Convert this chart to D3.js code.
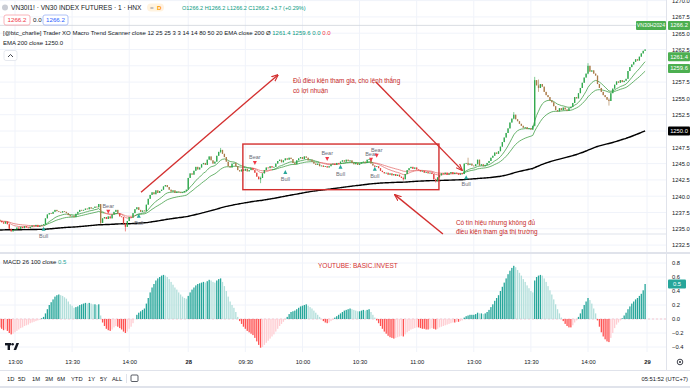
<!DOCTYPE html>
<html>
<head>
<meta charset="utf-8">
<script src="https://cdn.jsdelivr.net/npm/d3@7"></script>
<style>
  body { margin: 0; background: #fff; }
  svg { display: block; }
</style>
</head>
<body>
<div id="chart"></div>
<script>
// 1-minute closes, bar 0 = 11:22 (27th), bar 8 = 13:00, bar 99 = 09:00 (28th), bar 249 = 13:00
const closes = [
  1236.2, 1236.0, 1235.8, 1236.1, 1235.7, 1235.0, 1234.6, 1234.8, 1234.9, 1235.2,
  1235.0, 1235.3, 1235.1, 1235.4, 1235.2, 1235.1, 1235.3, 1235.5, 1235.4, 1235.6,
  1235.3, 1235.5, 1235.6, 1235.7, 1236.6, 1237.2, 1237.4, 1237.3, 1237.6, 1237.9,
  1237.7, 1237.6, 1237.5, 1237.7, 1237.6, 1237.4, 1237.1, 1236.9, 1237.0, 1236.8,
  1237.3, 1237.6, 1237.9, 1237.8, 1237.9, 1238.1, 1238.0, 1238.3, 1238.1, 1238.2,
  1238.4, 1238.3, 1238.8, 1235.9, 1236.6, 1236.8, 1236.5, 1236.9, 1236.6, 1237.2,
  1237.6, 1237.9, 1237.4, 1236.9, 1236.8, 1235.8, 1235.3, 1236.2, 1236.8, 1236.7,
  1237.4, 1238.0, 1238.3, 1237.9, 1237.6, 1237.8, 1237.7, 1238.7, 1239.6, 1240.2,
  1240.6, 1240.3, 1240.9, 1240.5, 1240.8, 1241.0, 1241.5, 1241.7, 1241.4, 1241.0,
  1240.7, 1240.9, 1240.5, 1240.7, 1240.6, 1240.5, 1240.6, 1240.8, 1241.0, 1242.8,
  1243.5, 1243.3, 1243.9, 1244.5, 1244.1, 1244.4, 1244.9, 1245.1, 1244.8, 1245.6,
  1246.1, 1245.5, 1245.0, 1245.3, 1246.2, 1246.8, 1247.1, 1246.5, 1246.0, 1245.3,
  1244.6, 1244.4, 1245.0, 1245.1, 1244.6, 1244.0, 1243.8, 1244.1, 1243.9, 1244.2,
  1243.8, 1244.0, 1244.3, 1244.0, 1243.6, 1243.0, 1242.6, 1242.8, 1243.5, 1244.0,
  1244.4, 1244.3, 1244.6, 1244.4, 1244.5, 1245.0, 1245.4, 1245.6, 1245.2, 1245.5,
  1245.8, 1245.6, 1245.9, 1245.7, 1245.1, 1244.9, 1245.5, 1245.8, 1246.0, 1245.7,
  1246.1, 1245.9, 1245.5, 1245.6, 1245.3, 1245.0, 1244.8, 1245.0, 1244.6, 1244.7,
  1244.5, 1244.6, 1244.4, 1244.6, 1244.9, 1245.0, 1244.8, 1245.1, 1245.0, 1245.3,
  1245.5, 1245.3, 1245.6, 1245.4, 1245.5, 1245.1, 1244.9, 1245.1, 1244.8, 1245.0,
  1245.2, 1245.3, 1245.1, 1245.6, 1245.7, 1245.0, 1244.7, 1244.5, 1244.6, 1244.3,
  1243.9, 1243.7, 1243.5, 1243.6, 1243.3, 1243.5, 1243.2, 1243.4, 1243.1, 1243.3,
  1243.0, 1242.8, 1242.6, 1243.4, 1244.0, 1244.3, 1244.5, 1244.2, 1244.4, 1244.1,
  1244.0, 1243.8, 1243.9, 1243.6, 1243.7, 1243.5, 1243.6, 1243.4, 1242.6, 1242.3,
  1242.9, 1243.2, 1243.5, 1243.4, 1243.6, 1243.3, 1243.5, 1243.7, 1243.4, 1243.6,
  1243.5, 1243.3, 1243.5, 1243.4, 1245.0, 1245.1, 1244.8, 1245.0, 1244.7, 1244.6,
  1244.9, 1245.6, 1244.7, 1244.9, 1244.6, 1244.8, 1245.1, 1245.4, 1245.9, 1246.2,
  1246.7, 1246.5, 1246.9, 1247.6, 1248.3, 1249.0, 1249.7, 1250.4, 1251.3, 1251.9,
  1252.5, 1251.8, 1251.5, 1251.1, 1250.8, 1250.5, 1250.6, 1250.3, 1250.4, 1250.2,
  1250.8, 1257.8, 1257.0, 1256.6, 1257.2, 1256.8, 1256.0, 1255.5, 1255.2, 1254.7,
  1254.4, 1253.8, 1253.2, 1253.0, 1253.5, 1253.2, 1253.6, 1253.3, 1253.1, 1253.5,
  1253.7, 1254.3, 1255.2, 1255.0, 1255.8, 1256.6, 1257.4, 1258.2, 1258.8, 1260.0,
  1259.1, 1259.3, 1258.8, 1258.5, 1257.2, 1256.6, 1256.0, 1255.5, 1255.2, 1254.8,
  1254.6, 1255.8, 1256.5, 1257.1, 1257.6, 1257.4, 1257.8, 1257.5, 1257.7, 1258.0,
  1259.2, 1259.8, 1260.2, 1260.6, 1261.0, 1260.8, 1261.4, 1261.9, 1262.3, 1262.5
];
const firstOpen = 1236.4;

// bars with visible wicks: index, high, low
const wickIdx  = [53, 66, 116, 137, 212, 229, 246, 270, 281, 283, 309, 320];
const wickHigh = [1238.6, 1235.9, 1247.4, 1243.0, 1243.0, 1242.7, 1245.9, 1252.9, 1258.3, 1257.9, 1260.4, 1255.0];
const wickLow  = [1235.7, 1234.6, 1246.6, 1242.0, 1242.4, 1242.1, 1244.7, 1251.8, 1250.7, 1256.0, 1258.7, 1253.9];

// MACD 26 100 histogram
const macdHist = [
  -0.12, -0.14, -0.16, -0.15, -0.17, -0.20, -0.22, -0.21, -0.19, -0.17,
  -0.15, -0.13, -0.12, -0.10, -0.09, -0.08, -0.06, -0.05, -0.04, -0.03,
  -0.02, -0.01, 0.01, 0.03, 0.08, 0.14, 0.20, 0.24, 0.28, 0.32,
  0.34, 0.35, 0.34, 0.33, 0.31, 0.29, 0.25, 0.21, 0.19, 0.16,
  0.17, 0.18, 0.20, 0.21, 0.22, 0.23, 0.22, 0.23, 0.22, 0.21,
  0.21, 0.20, 0.21, 0.05, -0.05, -0.10, -0.14, -0.16, -0.17, -0.15,
  -0.12, -0.10, -0.11, -0.13, -0.15, -0.18, -0.20, -0.18, -0.14, -0.11,
  -0.06, 0.00, 0.06, 0.09, 0.11, 0.13, 0.15, 0.22, 0.30, 0.38,
  0.45, 0.50, 0.55, 0.58, 0.60, 0.62, 0.63, 0.62, 0.60, 0.57,
  0.53, 0.49, 0.45, 0.42, 0.38, 0.35, 0.32, 0.30, 0.29, 0.33,
  0.38, 0.42, 0.45, 0.48, 0.50, 0.51, 0.52, 0.53, 0.52, 0.54,
  0.56, 0.55, 0.53, 0.52, 0.55, 0.57, 0.58, 0.53, 0.47, 0.40,
  0.32, 0.25, 0.20, 0.16, 0.10, 0.03, -0.03, -0.07, -0.11, -0.14,
  -0.17, -0.19, -0.21, -0.23, -0.27, -0.32, -0.37, -0.41, -0.40, -0.37,
  -0.34, -0.31, -0.28, -0.25, -0.22, -0.18, -0.14, -0.10, -0.07, -0.04,
  -0.01, 0.03, 0.07, 0.10, 0.11, 0.12, 0.14, 0.16, 0.18, 0.19,
  0.20, 0.21, 0.19, 0.17, 0.15, 0.12, 0.09, 0.06, 0.03, 0.00,
  -0.03, -0.05, -0.06, -0.05, -0.03, -0.01, 0.02, 0.04, 0.06, 0.08,
  0.10, 0.12, 0.13, 0.14, 0.15, 0.14, 0.13, 0.12, 0.11, 0.11,
  0.12, 0.13, 0.12, 0.13, 0.14, 0.10, 0.06, 0.02, -0.02, -0.06,
  -0.10, -0.14, -0.18, -0.21, -0.24, -0.26, -0.27, -0.28, -0.27, -0.26,
  -0.25, -0.24, -0.25, -0.22, -0.19, -0.17, -0.15, -0.14, -0.13, -0.12,
  -0.12, -0.13, -0.14, -0.14, -0.15, -0.15, -0.14, -0.13, -0.14, -0.15,
  -0.14, -0.12, -0.11, -0.10, -0.09, -0.08, -0.07, -0.06, -0.05, -0.05,
  -0.04, -0.04, -0.03, -0.02, 0.02, 0.04, 0.05, 0.06, 0.06, 0.06,
  0.07, 0.09, 0.08, 0.08, 0.07, 0.08, 0.10, 0.13, 0.17, 0.21,
  0.26, 0.30, 0.34, 0.40, 0.46, 0.52, 0.58, 0.64, 0.69, 0.73,
  0.76, 0.74, 0.70, 0.66, 0.62, 0.57, 0.53, 0.48, 0.44, 0.40,
  0.38, 0.55, 0.60, 0.62, 0.63, 0.62, 0.58, 0.53, 0.47, 0.41,
  0.35, 0.28, 0.21, 0.14, 0.08, 0.02, -0.03, -0.07, -0.10, -0.12,
  -0.12, -0.09, -0.05, -0.02, 0.03, 0.08, 0.14, 0.20, 0.25, 0.30,
  0.27, 0.22, 0.15, 0.08, -0.02, -0.11, -0.19, -0.25, -0.29, -0.32,
  -0.33, -0.27, -0.20, -0.13, -0.08, -0.05, -0.02, 0.01, 0.05, 0.09,
  0.14, 0.18, 0.22, 0.25, 0.28, 0.30, 0.33, 0.36, 0.41, 0.50
];

// EMA 200 value at the first visible bar
const ema200Seed = 1234.8;

// last values shown in the legends / price scale
const lastPrice = 1266.2;
const fastLast = 1261.4, slowLast = 1259.6, ema200Last = 1250.0, macdLast = 0.5;

// Trader XO signals
const signalIdx   = [23, 57, 73, 134, 150, 172, 179, 195, 198, 197, 245];
const signalType  = ['Bull', 'Bear', 'Bull', 'Bear', 'Bull', 'Bear', 'Bull', 'Bear', 'Bear', 'Bull', 'Bull'];
const signalPrice = [1235.0, 1237.6, 1237.0, 1245.1, 1243.7, 1245.7, 1244.5, 1245.6, 1246.2, 1244.2, 1242.9];

// time axis
const timeTickIdx = [8, 38, 68, 99, 129, 159, 189, 219, 249, 279, 309, 340];
const timeTickLabels = ['13:00', '13:30', '14:00', '28', '09:30', '10:00', '10:30', '11:00', '13:00', '13:30', '14:00', '29'];

const priceTicks = d3.range(1232.5, 1270.01, 2.5);
const macdTicks = [-0.4, -0.2, 0, 0.2, 0.4, 0.6, 0.8];

// ---------------------------------------------------------------
const W = 690, H = 388;
const paneRight = 666;
const mainTop = 0, mainBottom = 252;
const macdTop = 254, macdBottom = 352;
const font = "'Liberation Sans', Arial, sans-serif";

const x = d3.scaleLinear().domain([8, 309]).range([15, 588]);
const y = d3.scaleLinear().domain([1232.5, 1270]).range([245.1, 0.6]);
const yM = d3.scaleLinear().domain([-0.4, 0.8]).range([347, 263]);

function ema(values, len, seed) {
    const k = 2 / (len + 1);
    let prev = seed === undefined ? values[0] : seed;
    return values.map(v => (prev = prev + k * (v - prev)));
}

const bars = closes.map((c, i) => {
    const o = i ? closes[i - 1] : firstOpen;
    let hi = Math.max(o, c), lo = Math.min(o, c);
    const w = wickIdx.indexOf(i);
    if (w >= 0) { hi = wickHigh[w]; lo = wickLow[w]; }
    return { i, o, c, hi, lo };
});
const fast = ema(closes, 12);
const slow = ema(closes, 25);
const ema200 = ema(closes, 200, ema200Seed);

const svg = d3.select('#chart').append('svg')
    .attr('width', W).attr('height', H)
    .style('font-family', font);

svg.append('rect').attr('width', W).attr('height', H).attr('fill', '#fff');

const defs = svg.append('defs');
defs.append('clipPath').attr('id', 'clipMain')
    .append('rect').attr('x', 0).attr('y', mainTop).attr('width', paneRight).attr('height', mainBottom - mainTop);
defs.append('clipPath').attr('id', 'clipMacd')
    .append('rect').attr('x', 0).attr('y', macdTop).attr('width', paneRight).attr('height', macdBottom - macdTop);
defs.append('marker').attr('id', 'arrow')
    .attr('viewBox', '0 0 10 10').attr('refX', 9).attr('refY', 5)
    .attr('markerWidth', 5).attr('markerHeight', 5).attr('orient', 'auto')
    .append('path').attr('d', 'M0,1 L10,5 L0,9').attr('fill', 'none')
    .attr('stroke', '#d32f2f').attr('stroke-width', 1.6);

// grid
const grid = svg.append('g');
grid.selectAll('.vg').data(timeTickIdx).enter().append('line')
    .attr('x1', d => x(d)).attr('x2', d => x(d))
    .attr('y1', 0).attr('y2', macdBottom)
    .attr('stroke', '#f0f3fa').attr('stroke-width', 1);
grid.selectAll('.hg').data(priceTicks).enter().append('line')
    .attr('x1', 0).attr('x2', paneRight)
    .attr('y1', d => y(d)).attr('y2', d => y(d))
    .attr('stroke', '#f0f3fa');
grid.selectAll('.hm').data(macdTicks).enter().append('line')
    .attr('x1', 0).attr('x2', paneRight)
    .attr('y1', d => yM(d)).attr('y2', d => yM(d))
    .attr('stroke', '#f0f3fa');

// reference lines in the main pane
svg.append('line').attr('x1', 0).attr('x2', paneRight)
    .attr('y1', y(lastPrice)).attr('y2', y(lastPrice))
    .attr('stroke', '#d1d4dc').attr('stroke-width', 0.8);
svg.append('line').attr('x1', 0).attr('x2', paneRight)
    .attr('y1', y(1234.2)).attr('y2', y(1234.2))
    .attr('stroke', '#e0e3eb').attr('stroke-width', 1.2);

// pane separators
svg.append('rect').attr('x', 0).attr('y', mainBottom).attr('width', W).attr('height', 2).attr('fill', '#e0e3eb');
svg.append('line').attr('x1', paneRight + 0.5).attr('x2', paneRight + 0.5).attr('y1', 0).attr('y2', 370)
    .attr('stroke', '#e0e3eb');

// ---- main pane
const main = svg.append('g').attr('clip-path', 'url(#clipMain)');

// EMA 200
main.append('path').datum(ema200)
    .attr('d', d3.line().x((d, i) => x(i)).y(d => y(d)).curve(d3.curveMonotoneX))
    .attr('fill', 'none').attr('stroke', '#000').attr('stroke-width', 1.4);

// fast / slow ribbons
const segs = d3.range(1, closes.length);
[fast, slow].forEach(line => {
    main.append('g').selectAll('line').data(segs).enter().append('line')
        .attr('x1', i => x(i - 1)).attr('x2', i => x(i))
        .attr('y1', i => y(line[i - 1])).attr('y2', i => y(line[i]))
        .attr('stroke', i => fast[i] >= slow[i] ? '#43a047' : '#e57373')
        .attr('stroke-width', 0.8);
});

// candles
const bw = 1.3;
const candleColor = d => d.c >= d.o ? '#2ea84c' : (fast[d.i] >= slow[d.i] ? '#a97a48' : '#e5403c');
const cg = main.append('g');
cg.selectAll('.wick').data(bars).enter().append('line')
    .attr('x1', d => x(d.i)).attr('x2', d => x(d.i))
    .attr('y1', d => y(d.hi)).attr('y2', d => y(d.lo))
    .attr('stroke', candleColor).attr('stroke-width', 0.6);
cg.selectAll('.body').data(bars).enter().append('rect')
    .attr('x', d => x(d.i) - bw / 2).attr('width', bw)
    .attr('y', d => y(Math.max(d.o, d.c)))
    .attr('height', d => Math.max(0.8, y(Math.min(d.o, d.c)) - y(Math.max(d.o, d.c))))
    .attr('fill', candleColor);

// signals
const sig = main.append('g');
signalIdx.forEach((idx, k) => {
    const bull = signalType[k] === 'Bull';
    const cx = x(idx), cy = y(signalPrice[k]);
    const tri = bull
        ? `M${cx - 2},${cy + 2} L${cx + 2},${cy + 2} L${cx},${cy - 2}Z`
        : `M${cx - 2},${cy - 2} L${cx + 2},${cy - 2} L${cx},${cy + 2}Z`;
    sig.append('path').attr('d', tri).attr('fill', bull ? '#26a69a' : '#f23645');
    sig.append('text').attr('x', cx).attr('y', bull ? cy + 9 : cy - 4)
        .attr('text-anchor', 'middle').attr('font-size', 5.5).attr('fill', '#6a6d78')
        .text(signalType[k]);
});

// ---- annotations (anchored in bar index / price)
const red = '#d32f2f';
const ann = svg.append('g');
const arrows = [
    [[74.2, 1240.6], [146.1, 1258.6]],
    [[197.6, 1257.5], [242.8, 1244.0]],
    [[232.8, 1234.2], [207.6, 1240.2]]
];
arrows.forEach(a => {
    ann.append('line')
        .attr('x1', x(a[0][0])).attr('y1', y(a[0][1]))
        .attr('x2', x(a[1][0])).attr('y2', y(a[1][1]))
        .attr('stroke', red).attr('stroke-width', 1.4)
        .attr('marker-end', 'url(#arrow)');
});
ann.append('rect')
    .attr('x', x(127.7)).attr('y', y(1248.0))
    .attr('width', x(230.7) - x(127.7)).attr('height', y(1241.0) - y(1248.0))
    .attr('fill', 'none').attr('stroke', red).attr('stroke-width', 1.4);

function note(idx, price, lines) {
    const t = ann.append('text').attr('x', x(idx)).attr('y', y(price))
        .attr('font-size', 6.4).attr('fill', '#c62828');
    lines.forEach((s, k) => t.append('tspan').attr('x', x(idx)).attr('dy', k ? 9.5 : 0).text(s));
}
note(154, 1257.3, ['Đủ điều kiện tham gia, cho lệnh thắng', 'có lợi nhuận']);
note(239.6, 1235.6, ['Có tín hiệu nhưng không đủ', 'điều kiện tham gia thị trường']);

// ---- MACD pane
const macdG = svg.append('g').attr('clip-path', 'url(#clipMacd)');
macdG.append('line').attr('x1', 0).attr('x2', paneRight)
    .attr('y1', yM(0)).attr('y2', yM(0))
    .attr('stroke', '#f7b6bc').attr('stroke-dasharray', '2,2').attr('stroke-width', 0.7);
const histColor = (v, i) => {
    const prev = i ? macdHist[i - 1] : v;
    if (v >= 0) return v >= prev ? '#26a69a' : '#b2dfdb';
    return v <= prev ? '#ff5252' : '#ffcdd2';
};
macdG.selectAll('.hb').data(macdHist).enter().append('rect')
    .attr('x', (v, i) => x(i) - bw / 2).attr('width', bw)
    .attr('y', v => yM(Math.max(0, v)))
    .attr('height', v => Math.abs(yM(v) - yM(0)))
    .attr('fill', (v, i) => histColor(v, i));

svg.append('text').attr('x', 318).attr('y', 268).attr('font-size', 6.5)
    .attr('fill', '#d32f2f').text('YOUTUBE: BASIC.INVEST');

// ---- axes (labels under a price badge are hidden, as on the platform)
const badgePrices = [lastPrice, fastLast, slowLast, ema200Last];
const axisTextStyle = g => g.selectAll('text').attr('font-size', 5.8).attr('fill', '#131722').attr('font-family', font);

const pAxis = svg.append('g').attr('transform', `translate(${paneRight + 3},0)`)
    .call(d3.axisRight(y).tickValues(priceTicks.filter(t => badgePrices.every(b => Math.abs(y(t) - y(b)) > 6)))
        .tickSize(0).tickPadding(3).tickFormat(d3.format('.1f')));
pAxis.select('.domain').remove();
axisTextStyle(pAxis);

const mAxis = svg.append('g').attr('transform', `translate(${paneRight + 3},0)`)
    .call(d3.axisRight(yM).tickValues(macdTicks.filter(t => Math.abs(yM(t) - yM(macdLast)) > 6))
        .tickSize(0).tickPadding(3).tickFormat(d3.format('.1f')));
mAxis.select('.domain').remove();
axisTextStyle(mAxis);

const tAxis = svg.append('g').attr('transform', `translate(0,${macdBottom + 6})`)
    .call(d3.axisBottom(x).tickValues(timeTickIdx).tickSize(0).tickPadding(2)
        .tickFormat((d, k) => timeTickLabels[k]));
tAxis.select('.domain').remove();
axisTextStyle(tAxis);
tAxis.selectAll('text').attr('font-weight', (d, k) => timeTickLabels[k].length === 2 ? 'bold' : null);

// price badges
function badge(xp, yc, w, fill, txt, size) {
    svg.append('rect').attr('x', xp).attr('y', yc - 4.5).attr('width', w).attr('height', 9)
        .attr('fill', fill).attr('rx', 1);
    svg.append('text').attr('x', xp + w / 2).attr('y', yc + 2).attr('text-anchor', 'middle')
        .attr('font-size', size || 5.8).attr('fill', '#fff').text(txt);
}
const f1 = d3.format('.1f');
badge(636, y(lastPrice), 30, '#4caf50', 'VN30H2024', 5.2);
badge(668, y(lastPrice), 22, '#4caf50', f1(lastPrice));
badge(668, y(fastLast), 22, '#4caf50', f1(fastLast));
badge(668, y(slowLast), 22, '#4caf50', f1(slowLast));
badge(668, y(ema200Last), 22, '#000', f1(ema200Last));
badge(668, yM(macdLast), 18, '#26a69a', f1(macdLast));

// ---- legends
const lg = svg.append('g').attr('font-size', 6.2).attr('fill', '#131722');
lg.append('circle').attr('cx', 5).attr('cy', 7.5).attr('r', 3).attr('fill', '#c9ccd4');
lg.append('text').attr('x', 11).attr('y', 10).attr('font-size', 6.6).text('VN30I1! · VN30 INDEX FUTURES · 1 · HNX');
lg.append('rect').attr('x', 147).attr('y', 3.5).attr('width', 17).attr('height', 8).attr('rx', 4).attr('fill', '#fff3e0');
lg.append('text').attr('x', 150).attr('y', 10).attr('fill', '#9598a1').text('=');
lg.append('text').attr('x', 157).attr('y', 10).attr('fill', '#ff9800').attr('font-weight', 'bold').text('D');
lg.append('text').attr('x', 182).attr('y', 10).attr('fill', '#089981').attr('font-size', 5.5)
    .text(`O${f1(lastPrice)} H${f1(lastPrice)} L${f1(lastPrice)} C${f1(lastPrice)} +3.7 (+0.29%)`);

lg.append('rect').attr('x', 4).attr('y', 15).attr('width', 26).attr('height', 10).attr('rx', 2)
    .attr('fill', '#fff').attr('stroke', '#f7a1a8').attr('stroke-width', 0.8);
lg.append('text').attr('x', 17).attr('y', 22).attr('text-anchor', 'middle').attr('fill', '#f23645').text(f1(lastPrice));
lg.append('text').attr('x', 33).attr('y', 22).attr('fill', '#131722').text('0.0');
lg.append('rect').attr('x', 43).attr('y', 15).attr('width', 25).attr('height', 10).attr('rx', 2)
    .attr('fill', '#fff').attr('stroke', '#9db2f5').attr('stroke-width', 0.8);
lg.append('text').attr('x', 55.5).attr('y', 22).attr('text-anchor', 'middle').attr('fill', '#2962ff').text(f1(lastPrice));

const l3 = lg.append('text').attr('x', 3).attr('y', 35).attr('font-size', 6);
l3.append('tspan').text('[@btc_charlie] Trader XO Macro Trend Scanner close 12 25 25 3 3 14 14 80 50 20 EMA close 200  Ø ');
l3.append('tspan').attr('fill', '#089981').text(`${f1(fastLast)} ${f1(slowLast)} 0.0 `);
l3.append('tspan').attr('fill', '#f23645').text('0.0');

const l4 = lg.append('text').attr('x', 3).attr('y', 45).attr('font-size', 6);
l4.append('tspan').text('EMA 200 close  ');
l4.append('tspan').text(f1(ema200Last));

lg.append('rect').attr('x', 4).attr('y', 50.5).attr('width', 13).attr('height', 10).attr('rx', 2)
    .attr('fill', '#fff').attr('stroke', '#e0e3eb').attr('stroke-width', 0.8);
lg.append('path').attr('d', 'M8,57 L10.5,54.5 L13,57').attr('fill', 'none').attr('stroke', '#131722').attr('stroke-width', 0.8);

const l5 = lg.append('text').attr('x', 3).attr('y', 264).attr('font-size', 6);
l5.append('tspan').text('MACD 26 100 close  ');
l5.append('tspan').attr('fill', '#26a69a').text(f1(macdLast));

// TradingView logo
const logo = svg.append('g').attr('fill', '#131722');
logo.append('rect').attr('x', 5).attr('y', 343).attr('width', 6).attr('height', 2.4);
logo.append('rect').attr('x', 7.6).attr('y', 343).attr('width', 2.4).attr('height', 7);
logo.append('circle').attr('cx', 12.6).attr('cy', 344.3).attr('r', 1.3);
logo.append('path').attr('d', 'M13.6,350 L16.4,343 L19,343 L16.2,350Z');

// settings gear
svg.append('circle').attr('cx', 680).attr('cy', 362).attr('r', 2.8).attr('fill', 'none')
    .attr('stroke', '#131722').attr('stroke-width', 0.8);
svg.append('circle').attr('cx', 680).attr('cy', 362).attr('r', 0.9).attr('fill', '#131722');

// bottom toolbar
svg.append('line').attr('x1', 0).attr('x2', W).attr('y1', 370.5).attr('y2', 370.5).attr('stroke', '#e0e3eb');
svg.append('rect').attr('x', 0).attr('y', 386).attr('width', W).attr('height', 2).attr('fill', '#e0e3eb');
const ranges = ['1D', '5D', '1M', '3M', '6M', 'YTD', '1Y', '5Y', 'ALL'];
const rangeX = [7, 18, 32, 45, 57, 71, 88, 100, 112];
const tb = svg.append('g').attr('font-size', 5.8).attr('fill', '#131722');
ranges.forEach((r, k) => tb.append('text').attr('x', rangeX[k]).attr('y', 380.5).text(r));
svg.append('line').attr('x1', 126.5).attr('x2', 126.5).attr('y1', 374).attr('y2', 383).attr('stroke', '#e0e3eb');
svg.append('rect').attr('x', 131).attr('y', 375).attr('width', 7).attr('height', 6.5).attr('rx', 1)
    .attr('fill', 'none').attr('stroke', '#131722').attr('stroke-width', 0.7);
tb.append('text').attr('x', 688).attr('y', 380.5).attr('text-anchor', 'end').text('05:51:52 (UTC+7)');
</script>
</body>
</html>
